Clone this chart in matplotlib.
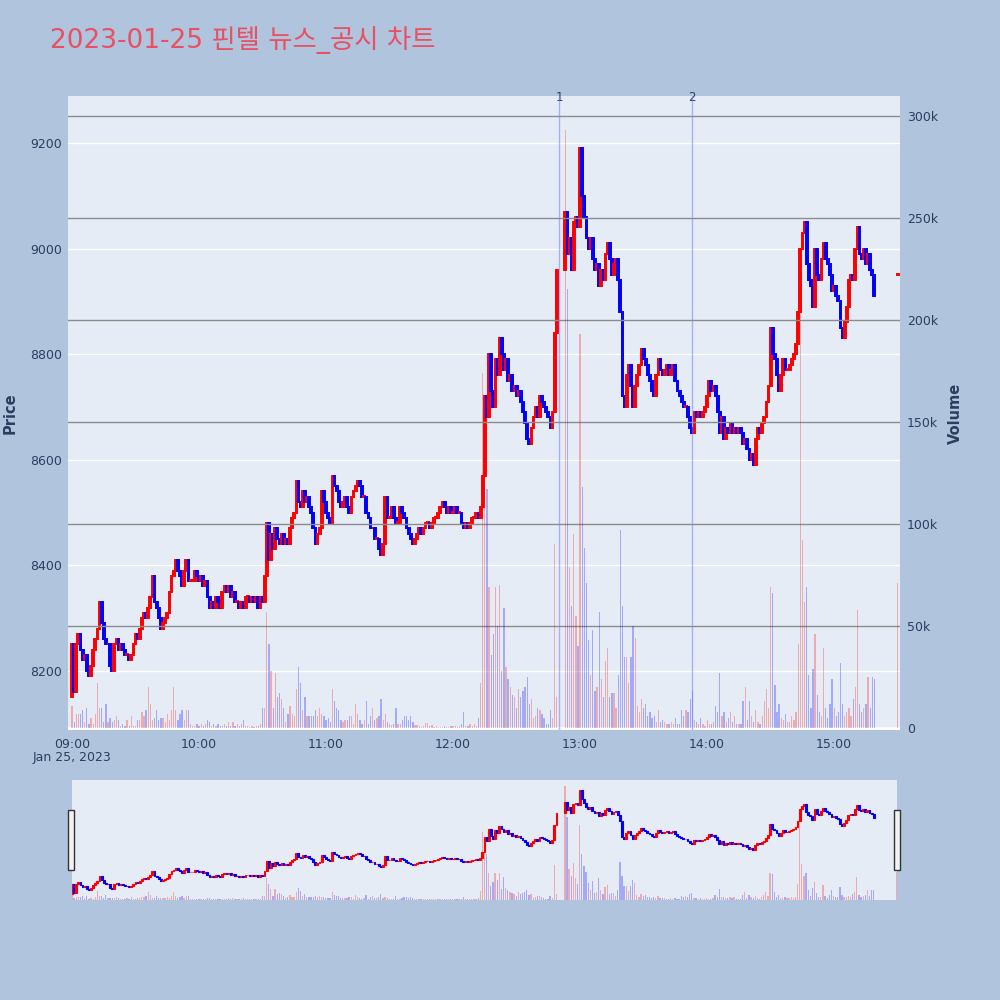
import numpy as np
import matplotlib
matplotlib.use("Agg")
import matplotlib.pyplot as plt
import matplotlib.transforms as mtrans
from matplotlib.patches import Rectangle

plt.rcParams['font.family'] = ['DejaVu Sans', 'Noto Sans CJK KR']

TITLE = "2023-01-25 핀텔 뉴스_공시 차트"
DATE_LABEL = "Jan 25, 2023"
FIRST_OPEN = 8150

# one-minute closes, 09:00 - 15:19 (None = no trade)
close_0900 = [8250, 8160, 8250, 8270, 8240, 8220, 8230, 8200, 8190, 8210,
              8240, 8260, 8280, 8330, 8290, 8260, 8250, 8250, 8210, 8200,
              8250, 8260, 8240, 8250, 8240, 8230, 8230, 8220, 8230, 8250,
              8270, 8260, 8280, 8300, 8310, 8300, 8320, 8340, 8380, 8330,
              8320, 8300, 8280, 8290, 8300, 8310, 8350, 8380, 8390, 8410,
              8390, 8380, 8360, 8390, 8410, 8370, 8370, 8370, 8390, 8380]
close_1000 = [8370, 8380, 8360, 8370, 8340, 8320, 8330, 8320, 8340, 8330,
              8320, 8350, 8360, 8350, 8360, 8340, 8350, 8330, 8330, 8320,
              8330, 8320, 8340, 8340, 8330, 8340, 8330, 8340, 8320, 8340,
              8330, 8380, 8480, 8410, 8460, 8430, 8470, 8450, 8440, 8460,
              8440, 8450, 8440, 8470, 8490, 8500, 8560, 8520, 8510, 8540,
              8520, 8530, 8510, 8500, 8470, 8440, 8460, 8470, 8540, 8520]
close_1100 = [8500, 8490, 8480, 8570, 8550, 8540, 8520, 8510, 8520, 8530,
              8510, 8500, 8530, 8540, 8550, 8560, 8550, 8530, 8530, 8500,
              8490, 8470, 8470, 8450, 8450, 8430, 8420, 8440, 8530, 8490,
              8490, 8510, 8490, 8480, 8480, 8510, 8500, 8490, 8470, 8460,
              8450, 8440, 8450, 8460, 8470, 8460, 8470, 8480, 8480, 8470,
              8480, 8490, 8490, 8500, 8510, 8520, 8510, 8500, 8510, 8500]
close_1200 = [8500, 8510, 8500, 8500, 8480, 8470, 8480, 8470, 8480, 8490,
              8490, 8500, 8490, 8510, 8570, 8720, 8680, 8800, 8730, 8700,
              8790, 8760, 8830, 8800, 8770, 8790, 8750, 8760, 8730, 8740,
              8720, 8730, 8710, 8690, 8670, 8640, 8630, 8660, 8680, 8700,
              8680, 8720, 8710, 8700, 8690, 8680, 8660, 8690, 8840, 8960,
              None, None, None, 9070, 8990, 9020, 8960, 9050, 9060, 9040]
close_1300 = [9190, 9100, 9060, 9020, 9000, 9020, 8980, 8960, 8970, 8930,
              8960, 8940, 8990, 9010, 8980, 8950, 8970, 8980, 8940, 8880,
              8720, 8700, 8760, 8780, 8740, 8700, 8740, 8760, 8780, 8810,
              8790, 8780, 8760, 8750, 8730, 8720, 8760, 8790, 8770, 8760,
              8770, 8780, 8760, 8770, 8780, 8750, 8730, 8720, 8710, 8700,
              8700, 8680, 8660, 8650, 8690, 8680, 8690, 8680, 8690, 8700]
close_1400 = [8720, 8750, 8730, 8740, 8720, 8690, 8650, 8680, 8640, 8660,
              8650, 8670, 8650, 8660, 8650, 8660, 8650, 8630, 8640, 8620,
              8600, 8610, 8590, 8640, 8660, 8650, 8670, 8680, 8710, 8740,
              8850, 8800, 8790, 8760, 8730, 8760, 8790, 8770, 8770, 8780,
              8790, 8800, 8820, 8880, 9000, 9030, 9050, 8970, 8940, 8930,
              8890, 9000, 8950, 8940, 8980, 9010, 8980, 8970, 8950, 8920]
close_1500 = [8930, 8910, 8900, 8850, 8830, 8860, 8890, 8940, 8950, 8940,
              9000, 9040, 8990, 8980, 9000, 8970, 8990, 8960, 8950, 8910]

# one-minute volume, thousands of shares
vol_0900 = [11, 3, 7, 7, 7, 9, 3, 10, 2, 5,
            2, 7, 22, 10, 10, 3, 12, 3, 5, 3,
            4, 6, 4, 1, 2, 1, 4, 1, 6, 1,
            1, 4, 4, 8, 6, 9, 20, 12, 4, 5,
            9, 4, 5, 5, 3, 7, 4, 9, 20, 9,
            4, 7, 9, 4, 9, 9, 2, 1, 1, 2]
vol_1000 = [1, 2, 1, 2, 4, 3, 1, 2, 1, 2,
            1, 1, 2, 1, 3, 1, 3, 1, 2, 1,
            2, 4, 1, 1, 0.5, 1, 0.5, 1, 1, 2,
            10, 10, 57, 41, 28, 10, 27, 15, 17, 14,
            10, 3, 7, 11, 7, 6, 19, 30, 22, 9,
            15, 6, 6, 6, 6, 9, 6, 10, 7, 6]
vol_1100 = [4, 5, 3, 19, 13, 10, 9, 4, 3, 4,
            4, 6, 6, 2, 12, 7, 4, 2, 4, 13,
            2, 6, 10, 4, 5, 6, 14, 4, 7, 3,
            2, 1.5, 2, 10, 2, 2, 4, 6, 6, 4,
            6, 3, 1.5, 1.5, 1, 0.7, 1, 2.3, 2.3, 1,
            1.5, 0.7, 1.2, 0.7, 0.7, 0.7, 1.2, 0.7, 0.7, 1]
vol_1200 = [1, 1, 0.5, 1, 2, 8, 1, 1, 2, 1,
            2, 1, 5, 22, 174, 125, 117, 69, 36, 46,
            69, 50, 70, 28, 59, 30, 24, 20, 16, 15,
            10, 19, 15, 18, 20, 25, 12, 14, 5, 6,
            10, 9, 7, 5, 2, 2, 9, 5, 90, 15,
            None, None, None, 293, 215, 79, 60, 95, 55, 40]
vol_1300 = [193, 118, 88, 71, 43, 26, 48, 18, 20, 57,
            24, 15, 33, 39, 15, 17, 17, 10, 26, 97,
            60, 35, 35, 22, 35, 50, 44, 11, 8, 14,
            10, 12, 6, 8, 5, 6, 3, 9, 3, 4,
            3, 2, 2, 3, 2, 5, 2, 2, 9, 6,
            9, 8, 14, 18, 4, 3, 2, 5, 2, 1]
vol_1400 = [4, 2, 2, 3, 11, 8, 27, 6, 8, 3,
            5, 8, 3, 6, 2, 2, 2, 13, 20, 4,
            13, 6, 3, 9, 3, 2, 6, 13, 19, 10,
            69, 66, 21, 8, 12, 5, 4, 7, 3, 3,
            6, 4, 8, 41, 205, 92, 62, 69, 26, 10,
            29, 46, 16, 8, 6, 39, 10, 5, 12, 24]
vol_1500 = [10, 6, 8, 32, 12, 6, 8, 10, 6, 14,
            20, 58, 12, 8, 10, 12, 25, 10, 25, 24]

# closing single-price auction
AUCTION_TIME = "15:30"
AUCTION_PRICE = 8950
AUCTION_VOLUME = 71

news_times = ["12:50", "13:53"]
news_labels = ["1", "2"]

price_ticks = [8200, 8400, 8600, 8800, 9000, 9200]
volume_ticks = [0, 50000, 100000, 150000, 200000, 250000, 300000]
volume_tick_labels = ["0", "50k", "100k", "150k", "200k", "250k", "300k"]
time_ticks = ["09:00", "10:00", "11:00", "12:00", "13:00", "14:00", "15:00"]

UP = "#FF0000"
DOWN = "#0000FF"
TXT = "#2a3f5f"


def to_min(s):
    h, m = map(int, s.split(":"))
    return (h - 9) * 60 + m


closes = close_0900 + close_1000 + close_1100 + close_1200 + close_1300 + close_1400 + close_1500
vols = vol_0900 + vol_1000 + vol_1100 + vol_1200 + vol_1300 + vol_1400 + vol_1500

xs, opens, cls, vv = [], [], [], []
prev = FIRST_OPEN
for i, (c, v) in enumerate(zip(closes, vols)):
    if c is None:
        continue
    xs.append(i)
    opens.append(prev)
    cls.append(c)
    vv.append(v * 1000)
    prev = c
xs.append(to_min(AUCTION_TIME))
opens.append(AUCTION_PRICE)
cls.append(AUCTION_PRICE)
vv.append(AUCTION_VOLUME * 1000)

xs = np.array(xs, float)
opens = np.array(opens, float)
cls = np.array(cls, float)
vv = np.array(vv, float)
cols = [UP if c >= o else DOWN for o, c in zip(opens, cls)]
vcols = [(1, 0, 0, 0.28) if c == UP else (0, 0, 1, 0.28) for c in cols]
bottoms = np.minimum(opens, cls)
heights = np.maximum(np.abs(cls - opens), 1.5)

PRICE_LIM = (8088, 9289)
VOL_LIM = (-980, 309800)
X_LIM = (-1.9, 391.1)

fig = plt.figure(figsize=(10, 10), dpi=100)
fig.patch.set_facecolor("#B0C4DE")

ax = fig.add_axes([0.068, 0.270, 0.832, 0.634])
ax.set_facecolor("#E5ECF6")
ax2 = ax.twinx()

ax.bar(xs, heights, bottom=bottoms, width=0.85, color=cols, edgecolor=cols,
       linewidth=1.4, zorder=3)
ax2.bar(xs, vv, width=0.6, color=vcols, linewidth=0, zorder=3)
ax2.axhline(0, color="white", lw=2, zorder=1)

ax.set_xlim(*X_LIM)
ax.set_ylim(*PRICE_LIM)
ax2.set_ylim(*VOL_LIM)

ax.set_yticks(price_ticks)
ax.set_yticklabels([str(p) for p in price_ticks])
ax.grid(axis="y", color="white", lw=1)
ax.set_axisbelow(True)
ax2.set_yticks(volume_ticks)
ax2.set_yticklabels(volume_tick_labels)
ax2.grid(axis="y", color="#8c8c8c", lw=1)
ax2.set_axisbelow(True)

ax.set_xticks([to_min(t) for t in time_ticks])
ax.set_xticklabels(time_ticks)
ax.tick_params(axis="both", length=0, labelsize=9, labelcolor=TXT)
ax.tick_params(axis="x", pad=6)
ax.tick_params(axis="y", pad=4)
ax2.tick_params(axis="y", length=0, labelsize=9, labelcolor=TXT, pad=5)
for a in (ax, ax2):
    for s in a.spines.values():
        s.set_visible(False)

trans = mtrans.blended_transform_factory(ax.transData, ax.transAxes)
for t, lab in zip(news_times, news_labels):
    m = to_min(t)
    ax2.axvline(m, color=(0.45, 0.5, 0.95, 0.55), lw=1, zorder=4)
    ax.text(m, 0.998, lab, transform=trans, ha="center", va="center",
            fontsize=8.5, color=TXT)

fig.text(0.072, 1 - 0.757, DATE_LABEL, ha="center", va="center", fontsize=9, color=TXT)
fig.text(0.010, 0.587, "Price", rotation=90, ha="center", va="center",
         fontsize=10.5, fontweight="bold", color=TXT)
fig.text(0.955, 0.587, "Volume", rotation=90, ha="center", va="center",
         fontsize=10.5, fontweight="bold", color=TXT)
fig.text(0.05, 0.960, TITLE, ha="left", va="center", fontsize=19, color="#E85064")

# range slider
ax3 = fig.add_axes([0.072, 0.100, 0.825, 0.120])
ax3.set_facecolor("#E5ECF6")
ax4 = ax3.twinx()
ax3.bar(xs, heights, bottom=bottoms, width=0.85, color=cols, edgecolor=cols,
        linewidth=0.8, zorder=3)
ax4.bar(xs, vv, width=0.6, color=vcols, linewidth=0, zorder=3)
ax3.set_xlim(0, 390)
ax3.set_ylim(*PRICE_LIM)
ax4.set_ylim(*VOL_LIM)
for a in (ax3, ax4):
    a.set_xticks([])
    a.set_yticks([])
    for s in a.spines.values():
        s.set_visible(False)

for hx in (0.068, 0.894):
    fig.patches.append(Rectangle((hx, 0.130), 0.006, 0.060, transform=fig.transFigure,
                                 facecolor="#f2f2f2", edgecolor="#333333", lw=1))

fig.savefig("out.png", dpi=100, facecolor=fig.get_facecolor())
